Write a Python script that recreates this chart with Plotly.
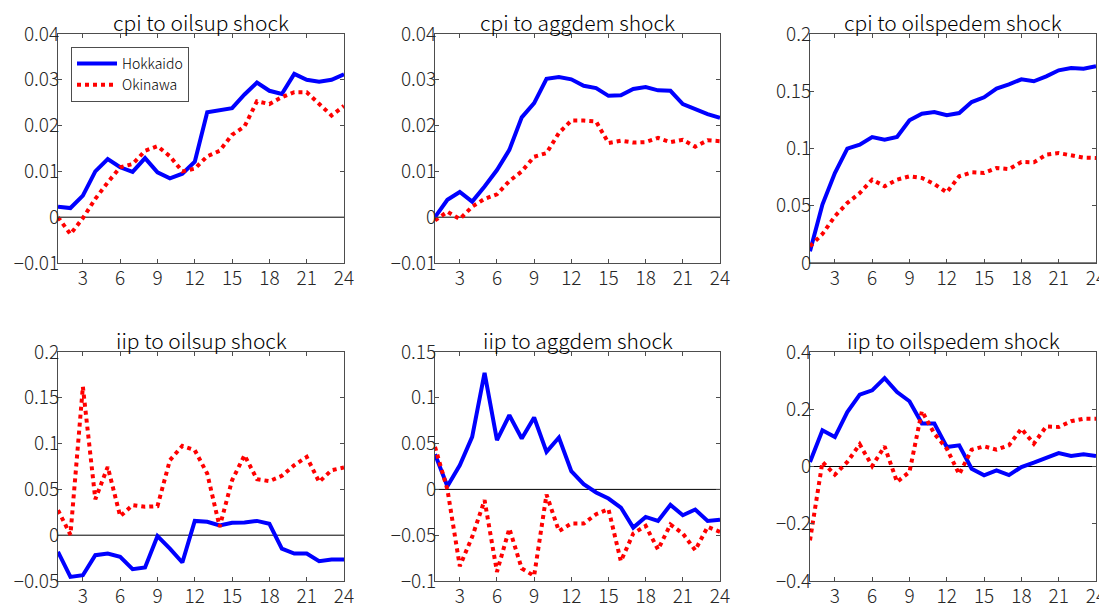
import plotly.graph_objects as go

horizon = list(range(1, 25))

titles = ["cpi to oilsup shock", "cpi to aggdem shock", "cpi to oilspedem shock",
          "iip to oilsup shock", "iip to aggdem shock", "iip to oilspedem shock"]

hok_cpi_oilsup = [0.0023, 0.0020, 0.0047, 0.0100, 0.0127, 0.0109, 0.0099, 0.0129, 0.0098, 0.0085, 0.0095, 0.0121,
                  0.0229, 0.0233, 0.0238, 0.0268, 0.0294, 0.0276, 0.0269, 0.0313, 0.0300, 0.0296, 0.0300, 0.0312]
oki_cpi_oilsup = [0.0000, -0.0037, -0.0002, 0.0040, 0.0076, 0.0109, 0.0116, 0.0145, 0.0155, 0.0133, 0.0100, 0.0106,
                  0.0133, 0.0145, 0.0180, 0.0198, 0.0253, 0.0247, 0.0262, 0.0273, 0.0273, 0.0246, 0.0222, 0.0243]

hok_cpi_aggdem = [0.0000, 0.0038, 0.0055, 0.0034, 0.0067, 0.0103, 0.0147, 0.0218, 0.0249, 0.0302, 0.0306, 0.0301,
                  0.0287, 0.0282, 0.0265, 0.0266, 0.0280, 0.0284, 0.0277, 0.0276, 0.0247, 0.0236, 0.0225, 0.0217]
oki_cpi_aggdem = [-0.0007, 0.0012, -0.0004, 0.0023, 0.0040, 0.0050, 0.0079, 0.0100, 0.0132, 0.0140, 0.0184, 0.0211,
                  0.0211, 0.0209, 0.0162, 0.0167, 0.0163, 0.0164, 0.0173, 0.0164, 0.0169, 0.0154, 0.0168, 0.0166]

hok_cpi_oilspedem = [0.0102, 0.0510, 0.0786, 0.0999, 0.1033, 0.1100, 0.1077, 0.1100, 0.1246, 0.1304, 0.1319, 0.1290,
                     0.1310, 0.1406, 0.1447, 0.1523, 0.1560, 0.1604, 0.1587, 0.1630, 0.1683, 0.1703, 0.1697, 0.1718]
oki_cpi_oilspedem = [0.0146, 0.0253, 0.0408, 0.0524, 0.0611, 0.0728, 0.0670, 0.0728, 0.0757, 0.0742, 0.0690, 0.0617,
                     0.0757, 0.0792, 0.0786, 0.0830, 0.0820, 0.0882, 0.0879, 0.0946, 0.0960, 0.0940, 0.0920, 0.0917]

hok_iip_oilsup = [-0.0182, -0.0455, -0.0437, -0.0218, -0.0200, -0.0237, -0.0371, -0.0353, -0.0010, -0.0146, -0.0298, 0.0156,
                  0.0146, 0.0106, 0.0135, 0.0138, 0.0156, 0.0124, -0.0146, -0.0200, -0.0200, -0.0284, -0.0266, -0.0266]
oki_iip_oilsup = [0.0273, 0.0005, 0.1620, 0.0393, 0.0746, 0.0207, 0.0328, 0.0310, 0.0317, 0.0819, 0.0975, 0.0928,
                  0.0673, 0.0091, 0.0600, 0.0873, 0.0611, 0.0590, 0.0648, 0.0764, 0.0855, 0.0582, 0.0710, 0.0739]

hok_iip_aggdem = [0.0384, 0.0035, 0.0264, 0.0574, 0.1272, 0.0537, 0.0810, 0.0555, 0.0785, 0.0410, 0.0566, 0.0199,
                  0.0057, -0.0034, -0.0100, -0.0198, -0.0417, -0.0300, -0.0344, -0.0169, -0.0282, -0.0220, -0.0344, -0.0330]
oki_iip_aggdem = [0.0464, 0.0000, -0.0838, -0.0518, -0.0118, -0.0900, -0.0428, -0.0864, -0.0944, -0.0056, -0.0456, -0.0373,
                  -0.0373, -0.0271, -0.0216, -0.0784, -0.0482, -0.0398, -0.0656, -0.0384, -0.0482, -0.0664, -0.0409, -0.0464]

hok_iip_oilspedem = [0.0157, 0.1264, 0.1030, 0.1900, 0.2510, 0.2660, 0.3090, 0.2600, 0.2280, 0.1500, 0.1500, 0.0680,
                     0.0740, -0.0076, -0.0310, -0.0134, -0.0300, -0.0017, 0.0134, 0.0300, 0.0470, 0.0367, 0.0425, 0.0367]
oki_iip_oilspedem = [-0.2580, 0.0157, -0.0285, 0.0157, 0.0774, 0.0017, 0.0704, -0.0540, -0.0190, 0.1940, 0.1147, 0.0623,
                     -0.0270, 0.0588, 0.0704, 0.0588, 0.0740, 0.1320, 0.0798, 0.1400, 0.1380, 0.1580, 0.1670, 0.1670]

hokkaido = [hok_cpi_oilsup, hok_cpi_aggdem, hok_cpi_oilspedem, hok_iip_oilsup, hok_iip_aggdem, hok_iip_oilspedem]
okinawa = [oki_cpi_oilsup, oki_cpi_aggdem, oki_cpi_oilspedem, oki_iip_oilsup, oki_iip_aggdem, oki_iip_oilspedem]

y_ranges = [[-0.01, 0.04], [-0.01, 0.04], [0, 0.2], [-0.05, 0.2], [-0.1, 0.15], [-0.4, 0.4]]
y_ticks = [[-0.01, 0, 0.01, 0.02, 0.03, 0.04],
           [-0.01, 0, 0.01, 0.02, 0.03, 0.04],
           [0, 0.05, 0.1, 0.15, 0.2],
           [-0.05, 0, 0.05, 0.1, 0.15, 0.2],
           [-0.1, -0.05, 0, 0.05, 0.1, 0.15],
           [-0.4, -0.2, 0, 0.2, 0.4]]
y_ticktext = [["\u22120.01", "0", "0.01", "0.02", "0.03", "0.04"],
              ["\u22120.01", "0", "0.01", "0.02", "0.03", "0.04"],
              ["0", "0.05", "0.1", "0.15", "0.2"],
              ["\u22120.05", "0", "0.05", "0.1", "0.15", "0.2"],
              ["\u22120.1", "\u22120.05", "0", "0.05", "0.1", "0.15"],
              ["\u22120.4", "\u22120.2", "0", "0.2", "0.4"]]
x_ticks = [3, 6, 9, 12, 15, 18, 21, 24]

# page offset of the plot div (default body margin)
OFF = 8
W, H = 1107 - OFF, 607 - OFF
col_px = [(58 - OFF, 344 - OFF), (435 - OFF, 720 - OFF), (810 - OFF, 1096 - OFF)]
row_px = [(34 - OFF, 263 - OFF), (352 - OFF, 581 - OFF)]

FONT = "Noto Sans CJK JP, Liberation Sans, sans-serif"
fig = go.Figure()
layout = dict(template="none", width=W, height=H, margin=dict(l=0, r=0, t=0, b=0, pad=0),
              paper_bgcolor="white", plot_bgcolor="white", showlegend=True,
              font=dict(family=FONT, color="#262626"))
annotations = []
for i in range(6):
    r, c = divmod(i, 3)
    n = i + 1
    xa = "xaxis" if n == 1 else f"xaxis{n}"
    ya = "yaxis" if n == 1 else f"yaxis{n}"
    xref = "x" if n == 1 else f"x{n}"
    yref = "y" if n == 1 else f"y{n}"
    x0, x1 = col_px[c]
    y0, y1 = row_px[r]
    common = dict(showline=True, linecolor="#4d4d4d", linewidth=1, mirror="allticks",
                  ticks="inside", ticklen=4, tickcolor="#4d4d4d", showgrid=False,
                  automargin=False,
                  tickfont=dict(size=19, family=FONT, color="#262626", weight=300))
    layout[xa] = dict(domain=[x0 / W, x1 / W], anchor=yref, range=[1, 24],
                      tickvals=x_ticks, zeroline=False, ticklabelstandoff=-2, **common)
    layout[ya] = dict(domain=[1 - y1 / H, 1 - y0 / H], anchor=xref, range=y_ranges[i],
                      tickvals=y_ticks[i], ticktext=y_ticktext[i],
                      zeroline=False, ticklabelstandoff=-6, **common)
    fig.add_trace(go.Scatter(x=[1, 24], y=[0, 0], mode="lines", xaxis=xref, yaxis=yref,
                             line=dict(color="black", width=1), showlegend=False, hoverinfo="skip"))
    fig.add_trace(go.Scatter(x=horizon, y=hokkaido[i], mode="lines", name="Hokkaido",
                             xaxis=xref, yaxis=yref, showlegend=(i == 0),
                             line=dict(color="rgb(0,0,255)", width=4)))
    fig.add_trace(go.Scatter(x=horizon, y=okinawa[i], mode="lines", name="Okinawa",
                             xaxis=xref, yaxis=yref, showlegend=(i == 0),
                             line=dict(color="rgb(255,0,0)", width=4, dash="dot")))
    annotations.append(dict(text=titles[i], xref="paper", yref="paper",
                            x=(x0 + x1) / 2 / W, y=1 - (y0 - 12) / H,
                            xanchor="center", yanchor="middle", showarrow=False,
                            font=dict(size=21, family=FONT, color="black", weight=300)))

layout["annotations"] = annotations
layout["legend"] = dict(x=(71 - OFF) / W, y=1 - (47 - OFF) / H, xanchor="left", yanchor="top",
                        bgcolor="white", bordercolor="#4d4d4d", borderwidth=1,
                        font=dict(size=14, family=FONT, color="black", weight=300),
                        tracegroupgap=0, itemwidth=40)
fig.update_layout(**layout)
fig.write_html("out.html")
